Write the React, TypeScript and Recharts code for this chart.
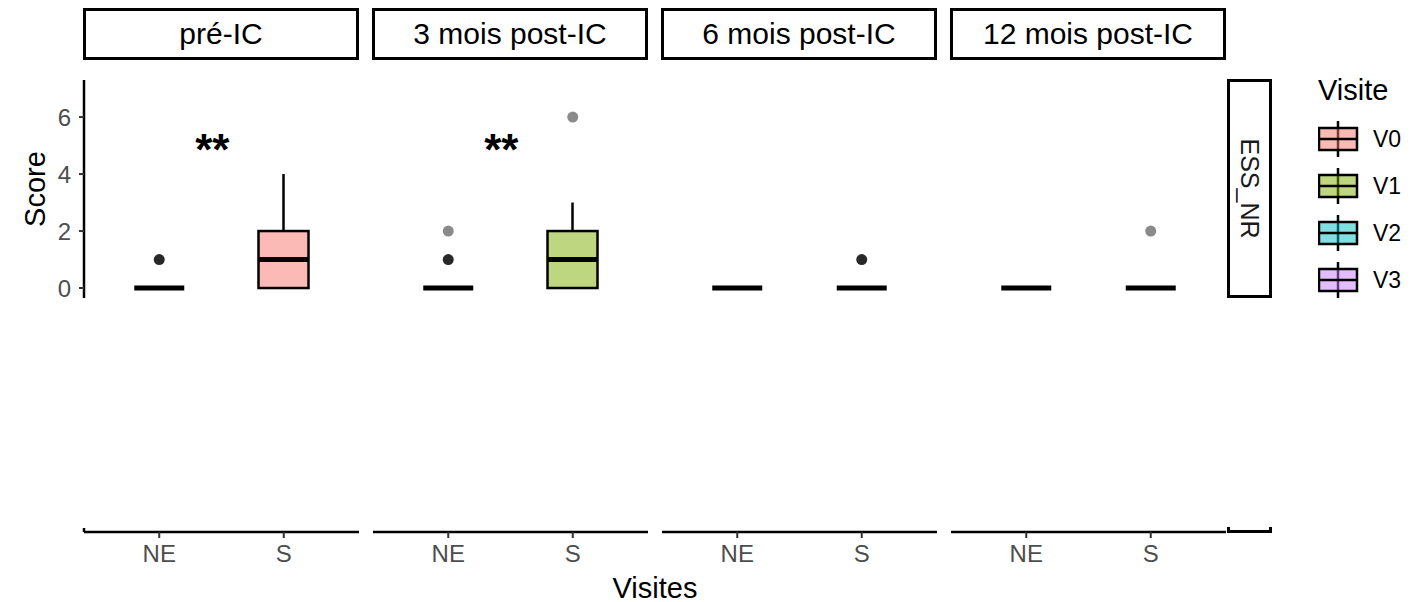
import React from "react";
import { Bar, ComposedChart, ReferenceDot, Scatter, XAxis, YAxis } from "recharts";

const categories = ["NE", "S"];
const facets = ["pré-IC", "3 mois post-IC", "6 mois post-IC", "12 mois post-IC"];
const visits = ["V0", "V1", "V2", "V3"];
const visitColors = ["#F8766D", "#7CAE00", "#00BFC4", "#C77CFF"];
const rowLabel = "ESS_NR";
const yTicks = [0, 2, 4, 6];

// per facet: [NE, S]
const mins = [[0, 0], [0, 0], [0, 0], [0, 0]];
const q1s = [[0, 0], [0, 0], [0, 0], [0, 0]];
const medians = [[0, 1], [0, 1], [0, 0], [0, 0]];
const q3s = [[0, 2], [0, 2], [0, 0], [0, 0]];
const maxs = [[0, 4], [0, 3], [0, 0], [0, 0]];
const outliers = [[[1], []], [[1, 2], [6]], [[], [1]], [[], [2]]];
const outlierCounts = [[[3], []], [[3, 1], [1]], [[], [3]], [[], [1]]];
const signif = ["**", "**", "", ""];
const signifY = 5;

const FONT = '"Liberation Sans", Arial, Helvetica, sans-serif';
const PANEL_LEFTS = [84, 373, 662, 951];
const PANEL_W = 275;
const AXIS_W = 84;
const ROW_TOP = 70;
const ROW_H = 218;
const ROW_PAD = 10;
const BOX_W = 50;
const PAD = 13;
const TICK_FONT = 24;

const buildRows = (i: number) =>
	categories.map((cat, j) => ({
		cat,
		min: mins[i][j],
		q1: q1s[i][j],
		median: medians[i][j],
		q3: q3s[i][j],
		max: maxs[i][j],
		o1: outliers[i][j][0] ?? null,
		n1: outlierCounts[i][j][0] ?? 0,
		o2: outliers[i][j][1] ?? null,
		n2: outlierCounts[i][j][1] ?? 0,
	}));

const Whisker = (p: any) => {
	const x = p.x + p.width / 2;
	const y1 = Math.min(p.y, p.y + p.height);
	const y2 = Math.max(p.y, p.y + p.height);
	return <line x1={x} x2={x} y1={y1} y2={y2} stroke="#000" strokeWidth={2.5} />;
};

const makeBox = (color: string) => (p: any) => {
	const y = Math.min(p.y, p.y + p.height);
	return (
		<rect
			x={p.x}
			y={y}
			width={p.width}
			height={Math.abs(p.height)}
			fill={color}
			fillOpacity={0.5}
			stroke="#000"
			strokeWidth={2.5}
		/>
	);
};

const MedianLine = (p: any) => (
	<line
		x1={p.cx - BOX_W / 2}
		x2={p.cx + BOX_W / 2}
		y1={p.cy}
		y2={p.cy}
		stroke="#000"
		strokeWidth={5}
	/>
);

const makeOutlier = (key: string, nKey: string) => (p: any) => {
	if (!p.payload || p.payload[key] == null) return <g />;
	const n = p.payload[nKey];
	return <circle cx={p.cx} cy={p.cy} r={5.5} fill="#000" fillOpacity={1 - Math.pow(0.54, n)} />;
};

const ScoreLabel = (p: any) => {
	const vb = p.viewBox;
	const cy = vb.y + vb.height / 2;
	return (
		<text x={35} y={cy} transform={`rotate(-90 35 ${cy})`} textAnchor="middle" dominantBaseline="central" fontSize={29} fill="#000">
			Score
		</text>
	);
};

const Panel = ({ i }: { i: number }) => {
	const rows = buildRows(i);
	const first = i === 0;
	const left = first ? 0 : PANEL_LEFTS[i];
	const width = first ? AXIS_W + PANEL_W : PANEL_W;
	return (
		<>
			<div style={{ position: "absolute", left, top: ROW_TOP }}>
				<ComposedChart
					width={width}
					height={ROW_H + 2 * ROW_PAD}
					data={rows}
					margin={{ top: ROW_PAD, right: 0, bottom: ROW_PAD, left: 0 }}
					barGap={-BOX_W}
				>
					<XAxis dataKey="cat" type="category" hide padding={{ left: PAD, right: PAD }} />
					<YAxis
						type="number"
						domain={[-0.35, 7.3]}
						ticks={yTicks}
						interval={0}
						allowDataOverflow
						hide={!first}
						width={AXIS_W}
						axisLine={{ stroke: "#000", strokeWidth: 2.5 }}
						tickLine={{ stroke: "#333", strokeWidth: 2 }}
						tickSize={5}
						tickMargin={8}
						fontSize={TICK_FONT}
						tick={{ fontSize: TICK_FONT, fill: "#4D4D4D" }}
						label={first ? { content: ScoreLabel } : undefined}
					/>
					<Bar dataKey={(d: any) => [d.min, d.q1]} barSize={BOX_W} shape={Whisker} isAnimationActive={false} />
					<Bar dataKey={(d: any) => [d.q3, d.max]} barSize={BOX_W} shape={Whisker} isAnimationActive={false} />
					<Bar dataKey={(d: any) => [d.q1, d.q3]} barSize={BOX_W} shape={makeBox(visitColors[i])} isAnimationActive={false} />
					<Scatter dataKey="median" shape={MedianLine} isAnimationActive={false} />
					<Scatter dataKey="o1" shape={makeOutlier("o1", "n1")} isAnimationActive={false} />
					<Scatter dataKey="o2" shape={makeOutlier("o2", "n2")} isAnimationActive={false} />
					{signif[i] && (
						<ReferenceDot
							x={categories[0]}
							y={signifY}
							r={0}
							shape={(p: any) => (
								<text x={p.cx + 53} y={p.cy + 19} textAnchor="middle" fontSize={44} fontWeight="bold" fill="#000">
									{signif[i]}
								</text>
							)}
						/>
					)}
				</ComposedChart>
			</div>
			<div style={{ position: "absolute", left, top: 528 }}>
				<ComposedChart width={width} height={50} data={rows} margin={{ top: 0, right: 0, bottom: 0, left: 0 }}>
					<XAxis
						dataKey="cat"
						type="category"
						height={46}
						interval={0}
						padding={{ left: PAD, right: PAD }}
						axisLine={{ stroke: "#000", strokeWidth: 2.5 }}
						tickLine={{ stroke: "#333", strokeWidth: 2 }}
						tickSize={6}
						tickMargin={7}
						fontSize={TICK_FONT}
						tick={{ fontSize: TICK_FONT, fill: "#4D4D4D" }}
					/>
					<YAxis
						type="number"
						domain={[0, 1]}
						hide={!first}
						width={AXIS_W}
						tick={false}
						tickLine={false}
						axisLine={{ stroke: "#000", strokeWidth: 2.5 }}
					/>
					<Bar dataKey="median" barSize={BOX_W} shape={() => <g />} isAnimationActive={false} />
				</ComposedChart>
			</div>
			<div
				style={{
					position: "absolute",
					left: PANEL_LEFTS[i] - 1,
					top: 8,
					width: PANEL_W + 1,
					height: 52,
					boxSizing: "border-box",
					border: "3px solid #000",
					display: "flex",
					alignItems: "center",
					justifyContent: "center",
					fontSize: 30,
					color: "#000",
				}}
			>
				{facets[i]}
			</div>
		</>
	);
};

const LegendBox = ({ color, label, cy }: { color: string; label: string; cy: number }) => (
	<g>
		<line x1={20} x2={20} y1={cy - 18} y2={cy + 18} stroke="#000" strokeWidth={2.5} />
		<rect x={1} y={cy - 11} width={38} height={22} fill={color} fillOpacity={0.5} stroke="#000" strokeWidth={2.5} />
		<line x1={1} x2={39} y1={cy} y2={cy} stroke="#000" strokeWidth={2.5} />
		<text x={55} y={cy} dominantBaseline="central" fontSize={23} fill="#000">
			{label}
		</text>
	</g>
);

export default function App() {
	return (
		<div style={{ position: "absolute", left: 0, top: 0, width: 1421, height: 602, background: "#fff", fontFamily: FONT }}>
			{facets.map((_, i) => (
				<Panel key={i} i={i} />
			))}
			<div
				style={{
					position: "absolute",
					left: 1227,
					top: 79,
					width: 45,
					height: 219,
					boxSizing: "border-box",
					border: "3px solid #000",
					display: "flex",
					alignItems: "center",
					justifyContent: "center",
				}}
			>
				<div style={{ transform: "rotate(90deg)", fontSize: 25, color: "#1A1A1A", whiteSpace: "nowrap" }}>{rowLabel}</div>
			</div>
			<div
				style={{
					position: "absolute",
					left: 1227,
					top: 527,
					width: 45,
					height: 6,
					boxSizing: "border-box",
					borderLeft: "3px solid #000",
					borderRight: "3px solid #000",
					borderBottom: "3px solid #000",
				}}
			/>
			<div style={{ position: "absolute", left: 0, top: 572, width: 1310, textAlign: "center", fontSize: 29, color: "#000" }}>
				Visites
			</div>
			<svg style={{ position: "absolute", left: 1318, top: 70 }} width={100} height={240}>
				<text x={0} y={30} fontSize={29} fill="#000">
					Visite
				</text>
				{visits.map((v, k) => (
					<LegendBox key={v} color={visitColors[k]} label={v} cy={69 + k * 47} />
				))}
			</svg>
		</div>
	);
}
